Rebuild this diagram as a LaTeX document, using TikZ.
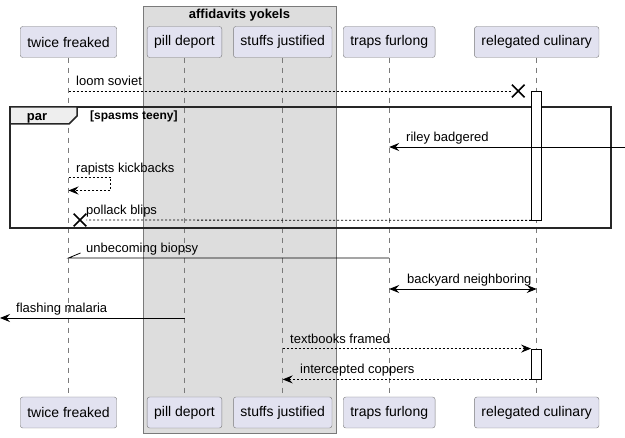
\documentclass[tikz,border=0pt]{standalone}
\usepackage{fontspec}
\setmainfont{Liberation Sans}
\usepackage{xcolor}
\usetikzlibrary{arrows.meta,shapes.misc}
\definecolor{partfill}{HTML}{E2E2F0}
\definecolor{partline}{HTML}{7A7A7A}
\definecolor{grpfill}{HTML}{DDDDDD}
\definecolor{tabfill}{HTML}{EEEEEE}
\tikzset{part/.style={draw=partline,fill=partfill,rounded corners=2.5pt,minimum height=31pt,inner xsep=7pt,font=\fontsize{14}{16}\selectfont}}
\tikzset{life/.style={draw=partline,dash pattern=on 5pt off 5pt,line width=0.5pt}}
\tikzset{msg/.style={line width=0.8pt}}
\tikzset{rep/.style={msg,dash pattern=on 2pt off 2pt}}
\tikzset{lbl/.style={inner sep=0pt,anchor=base west,font=\fontsize{13}{15}\selectfont}}
\tikzset{actbar/.style={draw,fill=white,line width=0.8pt,minimum width=10pt,inner sep=0pt}}
\tikzset{kill/.style={draw,cross out,line width=1.6pt,minimum size=11pt,inner sep=0pt}}
\tikzset{frame/.style={draw=black!85,line width=1.5pt}}

\begin{document}
\begin{tikzpicture}[x=1pt,y=-1pt,>={Stealth[length=10pt,width=8pt,inset=3.5pt]}]
    \useasboundingbox (0,0) rectangle (625,438);
    \draw[draw=partline,fill=grpfill] (143,6) rectangle (336,433);
    \node[font=\bfseries\fontsize{13}{15}\selectfont] (g)at (239.5,15) {affidavits yokels};

    \node[part] (tf)at (68.5,42) {twice freaked};
    \node[part] (pd)at (184.5,42) {pill deport};
    \node[part] (sj)at (282.7,42) {stuffs justified};
    \node[part] (tr)at (389.2,42) {traps furlong};
    \node[part] (rc)at (536.7,42) {relegated culinary};
    \node[part] (tfb)at (68.5,412.5) {twice freaked};
    \node[part] (pdb)at (184.5,412.5) {pill deport};
    \node[part] (sjb)at (282.7,412.5) {stuffs justified};
    \node[part] (trb)at (389.2,412.5) {traps furlong};
    \node[part] (rcb)at (536.7,412.5) {relegated culinary};

    \draw[life] (tf.south) -- (tfb.north);
    \draw[life] (pd.south) -- (pdb.north);
    \draw[life] (sj.south) -- (sjb.north);
    \draw[life] (tr.south) -- (trb.north);
    \draw[life] (rc.south) -- (rcb.north);

    \draw[frame] (10,107) rectangle (611,228);
    \draw[frame,fill=tabfill] (10,107) -- (77,107) -- (77,116) -- (69,124) -- (10,124) -- cycle;
    \node[font=\bfseries\fontsize{13}{15}\selectfont,anchor=base] (par)at (37,120.5) {par};
    \node[font=\bfseries\fontsize{12}{14}\selectfont,anchor=base west,inner sep=0pt] (cond)at (90,120) {[spasms teeny]};

    \node[actbar,minimum height=129pt] (a1)at (536.5,155.5) {};
    \node[actbar,minimum height=30pt] (a2)at (536.5,364) {};

    \node[kill] (x1)at (518.3,91) {};
    \draw[rep] (tf.south |- x1) -- (x1);
    \node[lbl] (m1)at (76,86) {loom soviet};

    \coordinate (e1)at (625,147);
    \draw[msg,->] (e1) -- (tr.south |- e1);
    \node[lbl] (m2)at (406,142) {riley badgered};

    \coordinate (k1)at (110.5,177);
    \coordinate (k2)at (110.5,190.5);
    \draw[rep,->] (tf.south |- k1) -- (k1) -- (k2) -- (tf.south |- k2);
    \node[lbl] (m3)at (76,172.5) {rapists kickbacks};

    \node[kill] (x2)at (80,220) {};
    \draw[rep] (a1.south west) -- (x2);
    \node[lbl] (m4)at (86,215) {pollack blips};

    \draw[msg] (tr.south |- 0,258) -- (tf.south |- 0,258) -- ++(12,-5);
    \node[lbl] (m5)at (86,253) {unbecoming biopsy};

    \draw[msg,<->] (tr.south |- 0,289) -- (rc.south |- 0,289);
    \node[lbl] (m6)at (407,284) {backyard neighboring};

    \coordinate (e2)at (0,318);
    \draw[msg,->] (pd.south |- e2) -- (e2);
    \node[lbl] (m7)at (16,313) {flashing malaria};

    \draw[rep,->] (sj.south |- a2.north) -- (a2.north west);
    \node[lbl] (m8)at (290,344) {textbooks framed};

    \draw[rep,->] (a2.south west) -- (sj.south |- a2.south);
    \node[lbl] (m9)at (300,374) {intercepted coppers};
\end{tikzpicture}
\end{document}
